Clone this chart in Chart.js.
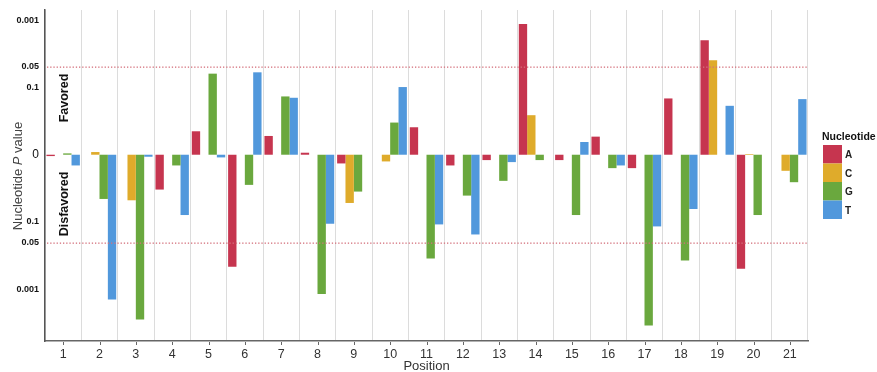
<!DOCTYPE html>
<html lang="en">
  <head>
    <meta charset="UTF-8" />
    <title>Nucleotide P value by position</title>
    <script src="https://cdn.jsdelivr.net/npm/chart.js"></script>
    <style>
      html, body { margin: 0; padding: 0; background: #fff; }
      #wrap { width: 877px; height: 372px; position: relative; }
    </style>
  </head>
  <body>
    <div id="wrap"><canvas id="posChart"></canvas></div>

    <script>
      // positions along the sequence
      const positions = ["1","2","3","4","5","6","7","8","9","10","11","12","13","14","15","16","17","18","19","20","21"];

      // signed score (up = favored, down = disfavored), null = no bar
      const valuesA = [-0.02, null, null, -0.52, 0.35, -1.67, 0.28, 0.03, -0.13, null, 0.41, -0.16, -0.08, 1.95, -0.08, 0.27, -0.20, 0.84, 1.71, -1.70, null];
      const valuesC = [null, 0.04, -0.68, null, null, null, null, null, -0.72, -0.10, null, null, null, 0.59, null, null, null, null, 1.41, 0.01, -0.24];
      const valuesG = [0.02, -0.66, -2.46, -0.16, 1.21, -0.45, 0.87, -2.08, -0.55, 0.48, -1.55, -0.61, -0.39, -0.08, -0.90, -0.20, -2.55, -1.58, null, -0.90, -0.41];
      const valuesT = [-0.16, -2.16, -0.03, -0.90, -0.04, 1.23, 0.85, -1.03, null, 1.01, -1.04, -1.19, -0.11, null, 0.19, -0.16, -1.07, -0.81, 0.73, null, 0.83];

      // y ticks: position on the score axis and the P value label shown
      const tickValues = [-2.01, -1.31, -1, 0, 1, 1.31, 2.01];
      const tickLabels = ["0.001", "0.05", "0.1", "0", "0.1", "0.05", "0.001"];
      const cutoffValue = 1.31; // P = 0.05 dotted lines

      const colors = { A: "#c6354f", C: "#dfab2b", G: "#6aa83e", T: "#5198dc" };
      const FONT = "'Liberation Sans', Arial, sans-serif";

      // dotted 0.05 lines, side labels, titles, legend
      const extras = {
        id: "extras",
        afterDatasetsDraw(chart) {
          const { ctx, chartArea, scales } = chart;
          const y = scales.y;
          const x = scales.x;
          ctx.save();

          // dotted lines
          ctx.fillStyle = "#d4707c";
          [cutoffValue, -cutoffValue].forEach((v) => {
            const py = Math.round(y.getPixelForValue(v));
            for (let px = chartArea.left + 2; px < chartArea.right; px += 3.2) {
              ctx.fillRect(px, py - 0.5, 1.3, 1.3);
            }
          });

          // small tick marks under each position
          ctx.strokeStyle = "#666";
          ctx.lineWidth = 1;
          positions.forEach((p, i) => {
            const px = Math.round(x.getPixelForValue(i)) + 0.5;
            ctx.beginPath();
            ctx.moveTo(px, chartArea.bottom + 1);
            ctx.lineTo(px, chartArea.bottom + 4);
            ctx.stroke();
          });

          // x title
          ctx.fillStyle = "#333";
          ctx.font = "13px " + FONT;
          ctx.textAlign = "center";
          ctx.textBaseline = "middle";
          ctx.fillText("Position", (chartArea.left + chartArea.right) / 2, 366);

          // Favored / Disfavored
          ctx.fillStyle = "#111";
          ctx.font = "bold 12.5px " + FONT;
          ctx.translate(65, 98);
          ctx.rotate(-Math.PI / 2);
          ctx.fillText("Favored", 0, 0);
          ctx.setTransform(1, 0, 0, 1, 0, 0);
          ctx.translate(65, 204);
          ctx.rotate(-Math.PI / 2);
          ctx.fillText("Disfavored", 0, 0);
          ctx.setTransform(1, 0, 0, 1, 0, 0);

          // y title with italic P
          ctx.translate(18, 176);
          ctx.rotate(-Math.PI / 2);
          ctx.fillStyle = "#444";
          ctx.textAlign = "left";
          const f1 = "13px " + FONT;
          const f2 = "italic 13px " + FONT;
          const parts = [["Nucleotide ", f1], ["P", f2], [" value", f1]];
          let total = 0;
          parts.forEach(([t, f]) => { ctx.font = f; total += ctx.measureText(t).width; });
          let cx = -total / 2;
          parts.forEach(([t, f]) => {
            ctx.font = f;
            ctx.fillText(t, cx, 0);
            cx += ctx.measureText(t).width;
          });
          ctx.setTransform(1, 0, 0, 1, 0, 0);

          // legend
          const lx = 823, ly = 145, bw = 19, bh = 18.5;
          ctx.fillStyle = "#111";
          ctx.font = "bold 10.5px " + FONT;
          ctx.textAlign = "left";
          ctx.fillText("Nucleotide", lx - 1, 137);
          chart.data.datasets.forEach((ds, i) => {
            ctx.fillStyle = ds.backgroundColor;
            ctx.fillRect(lx, ly + i * bh, bw, bh);
            ctx.fillStyle = "#222";
            ctx.font = "bold 10px " + FONT;
            ctx.fillText(ds.label, lx + bw + 3, ly + i * bh + bh / 2 + 1);
          });
          ctx.restore();
        },
      };

      new Chart(document.getElementById("posChart"), {
        type: "bar",
        data: {
          labels: positions,
          datasets: [
            { label: "A", data: valuesA, backgroundColor: colors.A },
            { label: "C", data: valuesC, backgroundColor: colors.C },
            { label: "G", data: valuesG, backgroundColor: colors.G },
            { label: "T", data: valuesT, backgroundColor: colors.T },
          ],
        },
        options: {
          responsive: true,
          maintainAspectRatio: false,
          animation: false,
          layout: { padding: { top: 10, right: 69, left: 0, bottom: 0 } },
          plugins: { legend: { display: false }, tooltip: { enabled: false } },
          datasets: { bar: { categoryPercentage: 0.92, barPercentage: 1.0 } },
          scales: {
            x: {
              grid: { offset: true, color: "#dcdcdc", lineWidth: 1, drawTicks: false },
              border: { color: "#666", width: 1.5 },
              ticks: {
                color: "#333",
                font: { size: 12.5, family: FONT },
                padding: 6,
                maxRotation: 0,
              },
              afterFit(scale) { scale.height = 31; },
            },
            y: {
              min: -2.78,
              max: 2.16,
              grid: { display: false, drawTicks: true, tickLength: 4, tickColor: "#666" },
              border: { color: "#555", width: 1.5 },
              afterBuildTicks(scale) {
                scale.ticks = tickValues.map((v) => ({ value: v }));
              },
              ticks: {
                autoSkip: false,
                padding: 2,
                color: "#111",
                callback(value) {
                  const i = tickValues.indexOf(value);
                  return i >= 0 ? tickLabels[i] : "";
                },
                font(ctx) {
                  if (ctx.tick && ctx.tick.value === 0) {
                    return { size: 12, family: FONT };
                  }
                  return { size: 9, weight: "bold", family: FONT };
                },
              },
              afterFit(scale) { scale.width = 45; },
            },
          },
        },
        plugins: [extras],
      });
    </script>
  </body>
</html>
